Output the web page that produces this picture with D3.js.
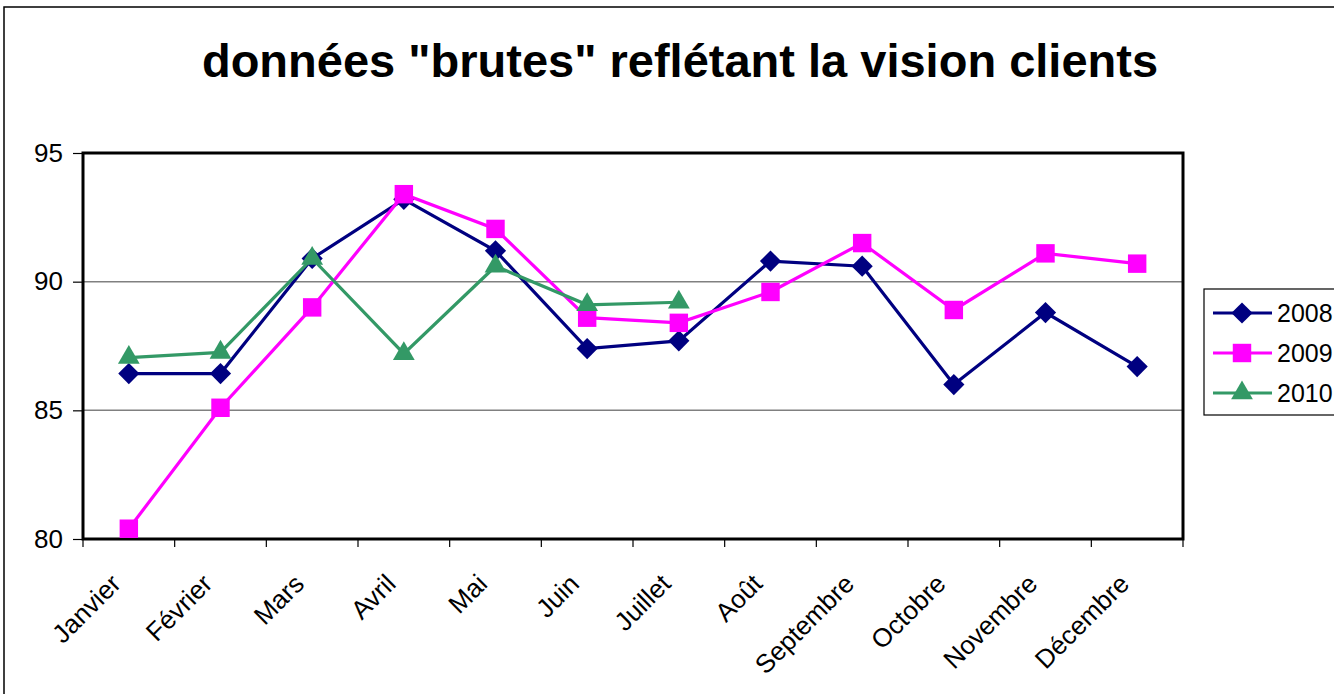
<!DOCTYPE html>
<html>
<head>
  <meta charset="utf-8" />
  <script src="https://d3js.org/d3.v7.min.js"></script>
  <style>
    body { margin: 0; background: white; }
    svg { font-family: Arial, "Liberation Sans", sans-serif; }
  </style>
</head>
<body>
  <div id="chart"></div>
  <script>
    const months = ["Janvier", "Février", "Mars", "Avril", "Mai", "Juin", "Juillet",
      "Août", "Septembre", "Octobre", "Novembre", "Décembre"];
    const years = ["2008", "2009", "2010"];
    const v2008 = [86.43, 86.43, 90.9, 93.2, 91.2, 87.4, 87.7, 90.8, 90.6, 86.0, 88.8, 86.7];
    const v2009 = [80.4, 85.1, 89.0, 93.4, 92.05, 88.6, 88.4, 89.6, 91.5, 88.9, 91.1, 90.7];
    const v2010 = [87.05, 87.25, 90.9, 87.2, 90.6, 89.1, 89.2];
    const yTicks = [80, 85, 90, 95];

    const width = 1334, height = 694;
    const plot = { left: 83, right: 1183, top: 153, bottom: 539 };

    const svg = d3.select("#chart").append("svg")
      .attr("width", width)
      .attr("height", height);

    // outer chart frame
    svg.append("rect")
      .attr("x", 4).attr("y", 7)
      .attr("width", 1400).attr("height", 800)
      .attr("fill", "white").attr("stroke", "black").attr("stroke-width", 1.5);

    svg.append("text")
      .attr("x", 680).attr("y", 77)
      .attr("text-anchor", "middle")
      .style("font-size", "47px").style("font-weight", "bold")
      .text('données "brutes" reflétant la vision clients');

    const x = d3.scaleBand().domain(months).range([plot.left, plot.right]);
    const y = d3.scaleLinear().domain([80, 95]).range([plot.bottom, plot.top]);

    // gridlines
    svg.append("g")
      .selectAll("line")
      .data(yTicks.filter(t => t > 80 && t < 95))
      .join("line")
      .attr("x1", plot.left).attr("x2", plot.right)
      .attr("y1", d => y(d)).attr("y2", d => y(d))
      .attr("stroke", "#808080").attr("stroke-width", 1.5);

    // y axis
    const yAxis = svg.append("g")
      .attr("transform", `translate(${plot.left},0)`)
      .call(d3.axisLeft(y).tickValues(yTicks).tickSize(10).tickPadding(10));
    yAxis.select(".domain").remove();
    yAxis.selectAll("line").attr("stroke", "black").attr("stroke-width", 1.2);
    yAxis.selectAll("text").style("font-size", "26px").attr("fill", "black")
      .attr("font-family", "Arial, 'Liberation Sans', sans-serif");

    // x axis ticks at category boundaries
    const bounds = months.map(m => x(m)).concat([plot.right]);
    svg.append("g")
      .selectAll("line")
      .data(bounds)
      .join("line")
      .attr("x1", d => d).attr("x2", d => d)
      .attr("y1", plot.bottom).attr("y2", plot.bottom + 8)
      .attr("stroke", "black").attr("stroke-width", 1.2);

    svg.append("g")
      .selectAll("text")
      .data(months)
      .join("text")
      .attr("transform", d => `translate(${x(d) + x.bandwidth() / 2 - 13},${plot.bottom + 40}) rotate(-45)`)
      .attr("text-anchor", "end")
      .attr("dy", "0.35em")
      .style("font-size", "26px")
      .text(d => d);

    // plot frame
    svg.append("rect")
      .attr("x", plot.left).attr("y", plot.top)
      .attr("width", plot.right - plot.left).attr("height", plot.bottom - plot.top)
      .attr("fill", "none").attr("stroke", "black").attr("stroke-width", 3);

    const series = [
      { name: years[0], values: v2008, color: "#000080", shape: d3.symbolSquare, size: 225, rot: 45 },
      { name: years[1], values: v2009, color: "#FF00FF", shape: d3.symbolSquare, size: 340, rot: 0 },
      { name: years[2], values: v2010, color: "#339966", shape: d3.symbolTriangle, size: 205, rot: 0 }
    ];

    const line = d3.line()
      .x((d, i) => x(months[i]) + x.bandwidth() / 2)
      .y(d => y(d));

    series.forEach(s => {
      svg.append("path")
        .datum(s.values)
        .attr("d", line)
        .attr("fill", "none")
        .attr("stroke", s.color)
        .attr("stroke-width", 3.2);
      svg.append("g")
        .selectAll("path")
        .data(s.values)
        .join("path")
        .attr("transform", (d, i) => `translate(${x(months[i]) + x.bandwidth() / 2},${y(d)}) rotate(${s.rot})`)
        .attr("d", d3.symbol().type(s.shape).size(s.size))
        .attr("fill", s.color);
    });

    // legend
    const legend = svg.append("g");
    legend.append("rect")
      .attr("x", 1204).attr("y", 289)
      .attr("width", 200).attr("height", 126)
      .attr("fill", "white").attr("stroke", "black").attr("stroke-width", 1.2);
    series.forEach((s, i) => {
      const ly = 313 + i * 40;
      legend.append("line")
        .attr("x1", 1213).attr("x2", 1272)
        .attr("y1", ly).attr("y2", ly)
        .attr("stroke", s.color).attr("stroke-width", 3.2);
      legend.append("path")
        .attr("transform", `translate(1242,${ly}) rotate(${s.rot})`)
        .attr("d", d3.symbol().type(s.shape).size(s.size))
        .attr("fill", s.color);
      legend.append("text")
        .attr("x", 1277).attr("y", ly)
        .attr("dy", "0.36em")
        .style("font-size", "25px")
        .text(s.name);
    });
  </script>
</body>
</html>
